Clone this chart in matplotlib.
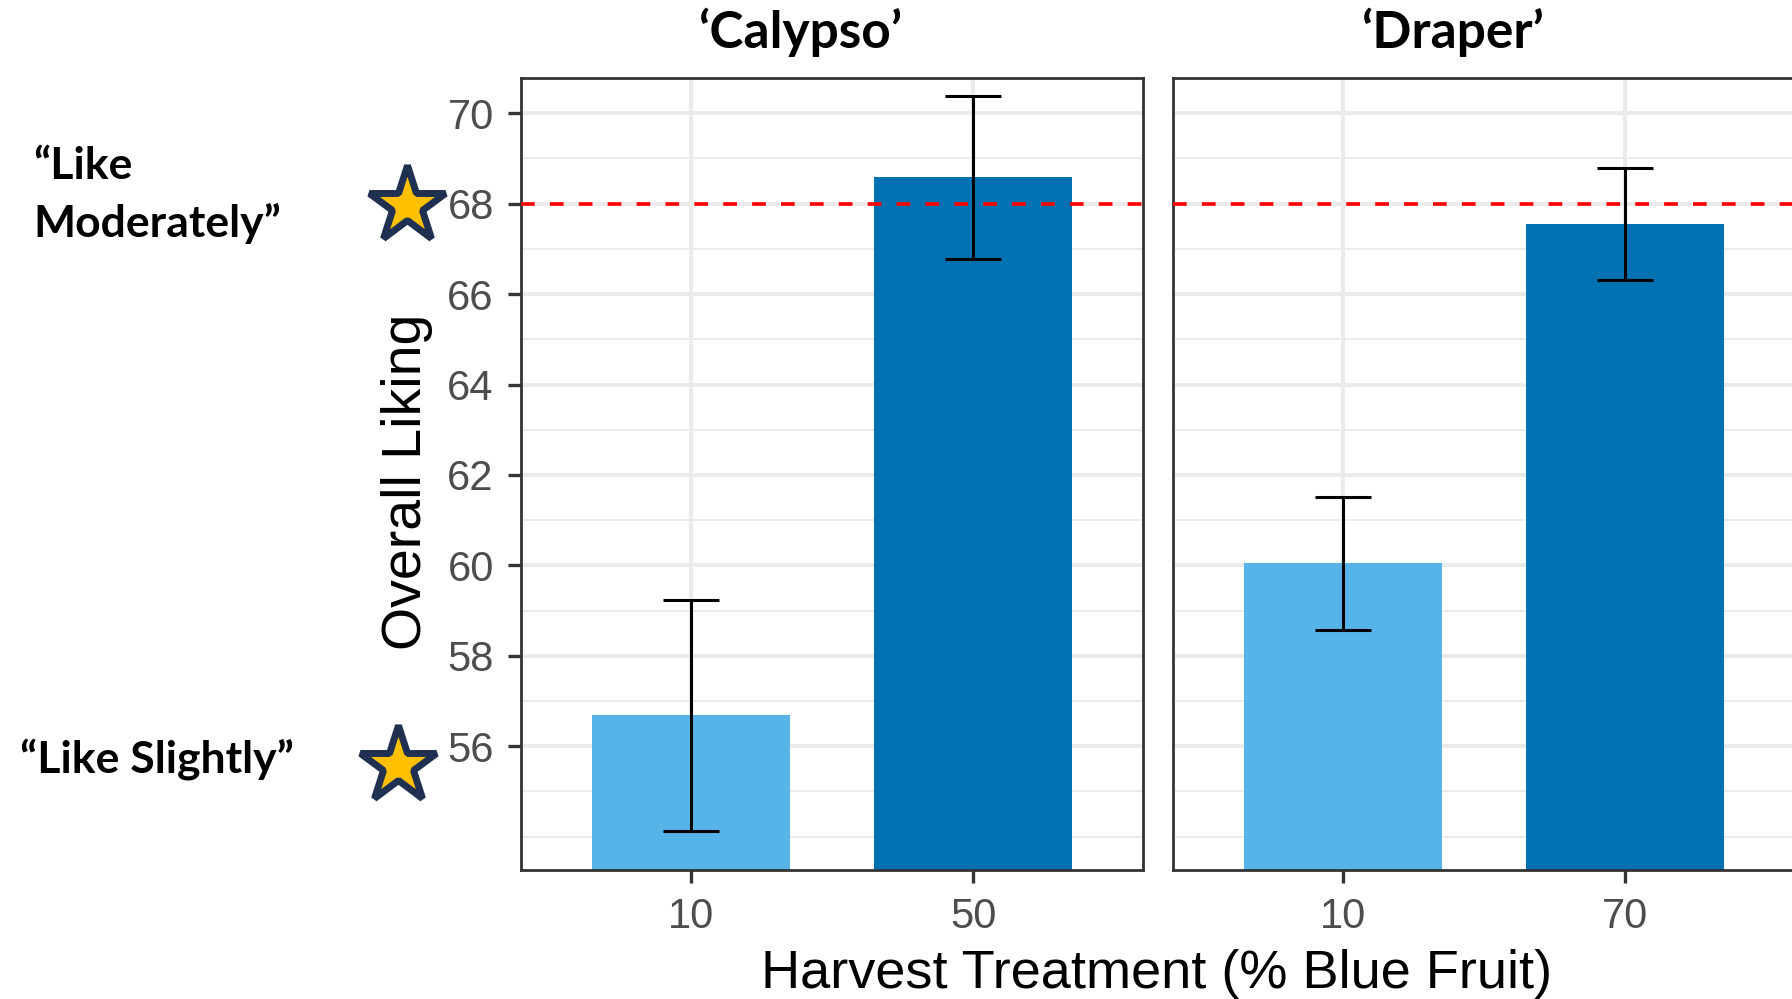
"""
Overall liking by harvest treatment, faceted by cultivar
"""
import matplotlib
matplotlib.use("Agg")
import matplotlib.pyplot as plt

plt.rcParams["font.family"] = ["Liberation Sans", "DejaVu Sans"]

# data
cultivars = ["\u2018Calypso\u2019", "\u2018Draper\u2019"]
treatments = [["10", "50"], ["10", "70"]]
liking_mean = [[56.68, 68.58], [60.05, 67.55]]
liking_se = [[2.55, 1.80], [1.47, 1.23]]
ref_level = 68
y_breaks = [56, 58, 60, 62, 64, 66, 68, 70]
y_minor = [54, 55, 57, 59, 61, 63, 65, 67, 69]
y_limits = (53.26, 70.78)

bar_colors = ["#56B4E9", "#0072B2"]
grid_col = "#EBEBEB"
frame_col = "#333333"
text_grey = "#4D4D4D"
callout_font = ["Lato", "DejaVu Sans"]

fig = plt.figure(figsize=(17.92, 9.99), dpi=100)

panel_pos = [[0.2907, 0.1291, 0.3471, 0.7928],
             [0.6546, 0.1291, 0.3471, 0.7928]]

for i, name in enumerate(cultivars):
    ax = fig.add_axes(panel_pos[i])
    x = [1, 2]
    ax.set_xlim(0.4, 2.6)
    ax.set_ylim(*y_limits)

    # grid
    for v in y_minor:
        ax.axhline(v, color=grid_col, lw=1.4, zorder=0)
    for v in y_breaks:
        ax.axhline(v, color=grid_col, lw=2.9, zorder=0)
    for xv in x:
        ax.axvline(xv, color=grid_col, lw=2.9, zorder=0)

    ax.bar(x, [m - y_limits[0] for m in liking_mean[i]], bottom=y_limits[0],
           width=0.7, color=bar_colors, zorder=2)
    ax.axhline(ref_level, color="#FF0000", lw=2.6, ls=(0, (3.8, 4.2)), zorder=3)
    ax.errorbar(x, liking_mean[i], yerr=liking_se[i], fmt="none", ecolor="black",
                elinewidth=2.2, capsize=20.5, capthick=2.2, zorder=4)

    ax.set_xticks(x)
    ax.set_xticklabels(treatments[i])
    ax.set_yticks(y_breaks)
    ax.tick_params(axis="both", length=9.5, width=2.4, color=frame_col,
                   labelsize=30, labelcolor=text_grey, pad=10)
    if i == 1:
        ax.tick_params(axis="y", left=False, labelleft=False)
    for sp in ax.spines.values():
        sp.set_color(frame_col)
        sp.set_linewidth(2.0)

# strip titles
fig.text(0.4464, 0.952, cultivars[0], ha="center", va="baseline",
         fontsize=37, fontweight="bold", family=callout_font)
fig.text(0.8103, 0.952, cultivars[1], ha="center", va="baseline",
         fontsize=37, fontweight="bold", family=callout_font)

fig.text(0.2271, 0.5175, "Overall Liking", rotation=90, ha="center",
         va="center", fontsize=40)
fig.text(0.6456, 0.011, "Harvest Treatment (% Blue Fruit)", ha="center",
         va="baseline", fontsize=39)

# scale anchors
fig.text(0.0184, 0.8208, "\u201cLike", ha="left", va="baseline",
         fontsize=32, fontweight="bold", family=callout_font)
fig.text(0.0184, 0.7628, "Moderately\u201d", ha="left", va="baseline",
         fontsize=32, fontweight="bold", family=callout_font)
fig.text(0.0112, 0.2272, "\u201cLike Slightly\u201d", ha="left", va="baseline",
         fontsize=32, fontweight="bold", family=callout_font)

for sx, sy in [(0.2271, 0.7948), (0.2221, 0.2342)]:
    fig.add_artist(plt.Line2D([sx], [sy], marker="*", markersize=58,
                              markerfacecolor="#FFC000", markeredgecolor="#1F3050",
                              markeredgewidth=5, transform=fig.transFigure))

fig.savefig("out.png", dpi=100)
